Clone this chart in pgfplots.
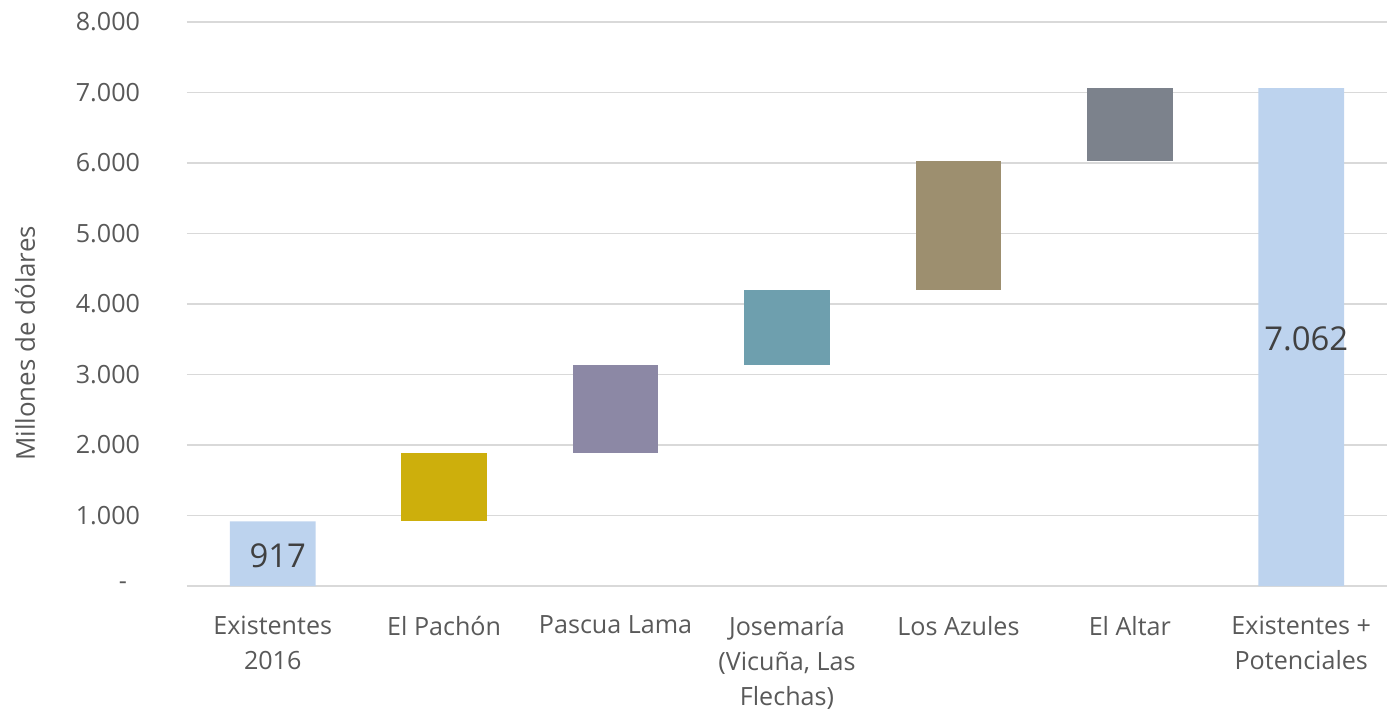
\documentclass[border=0pt]{standalone}
\usepackage{pgfplots}
\pgfplotsset{compat=1.18}
\usepackage{fontspec}
\setmainfont{Open Sans}
\definecolor{cblue}{HTML}{BDD3EE}
\definecolor{cyellow}{HTML}{CDAF0C}
\definecolor{cpurple}{HTML}{8C88A5}
\definecolor{cteal}{HTML}{6E9FAE}
\definecolor{ctan}{HTML}{9D8F6F}
\definecolor{cgray}{HTML}{7C828C}
\definecolor{gridgray}{HTML}{D9D9D9}
\definecolor{tickgray}{HTML}{595959}
\definecolor{labelgray}{HTML}{404040}
\begin{document}
\begin{tikzpicture}
\useasboundingbox (-93.5bp,-62.5bp) rectangle (605bp,293bp);
\begin{axis}[
  at={(0,0)}, anchor=south west,
  scale only axis, width=600bp, height=282bp,
  ybar stacked, bar width=0.5,
  xmin=-0.5, xmax=6.5, ymin=0, ymax=8000,
  xtick={0,1,2,3,4,5,6},
  xticklabels={{Existentes\\2016},{El Pachón},{Pascua Lama},{Josemaría\\(Vicuña, Las\\Flechas)},{Los Azules},{El Altar},{Existentes +\\Potenciales}},
  ytick={0,1000,2000,3000,4000,5000,6000,7000,8000},
  yticklabels={{\raisebox{-1bp}{-}\kern 6.5bp},1.000,2.000,3.000,4.000,5.000,6.000,7.000,8.000},
  ymajorgrids, grid style={draw=gridgray, line width=0.75bp},
  axis line style={draw=none},
  major tick length=0pt,
  tick label style={font=\fontsize{12.6}{17.5}\selectfont, text=tickgray},
  xticklabel style={align=center, anchor=north, yshift=-11.5bp},
  yticklabel style={anchor=east, xshift=-20bp},
  ylabel={Millones de dólares},
  every axis y label/.style={at={(axis description cs:-0.135,0.43)}, rotate=90, anchor=center, font=\fontsize{13}{15}\selectfont, text=tickgray},
  clip=false,
]
\addplot[fill=none, draw=none] coordinates {(0,0) (1,917) (2,1889) (3,3139) (4,4205) (5,6023) (6,0)};
\addplot[fill=cblue, draw=none] coordinates {(0,917) (1,0) (2,0) (3,0) (4,0) (5,0) (6,7062)};
\addplot[fill=cyellow, draw=none] coordinates {(0,0) (1,972) (2,0) (3,0) (4,0) (5,0) (6,0)};
\addplot[fill=cpurple, draw=none] coordinates {(0,0) (1,0) (2,1250) (3,0) (4,0) (5,0) (6,0)};
\addplot[fill=cteal, draw=none] coordinates {(0,0) (1,0) (2,0) (3,1066) (4,0) (5,0) (6,0)};
\addplot[fill=ctan, draw=none] coordinates {(0,0) (1,0) (2,0) (3,0) (4,1818) (5,0) (6,0)};
\addplot[fill=cgray, draw=none] coordinates {(0,0) (1,0) (2,0) (3,0) (4,0) (5,1039) (6,0)};
\end{axis}
\begin{axis}[
  at={(0,0)}, anchor=south west,
  scale only axis, width=600bp, height=282bp,
  xmin=-0.5, xmax=6.5, ymin=0, ymax=8000,
  hide axis, clip=false,
]
\addplot[only marks, mark=none, nodes near coords, point meta=explicit symbolic,
  every node near coord/.append style={anchor=center, xshift=2.5bp, yshift=-1bp, font=\fontsize{16.5}{20}\selectfont, text=labelgray}]
  coordinates {(0,458.5) [917] (6,3531) [7.062]};
\end{axis}
\end{tikzpicture}
\end{document}
